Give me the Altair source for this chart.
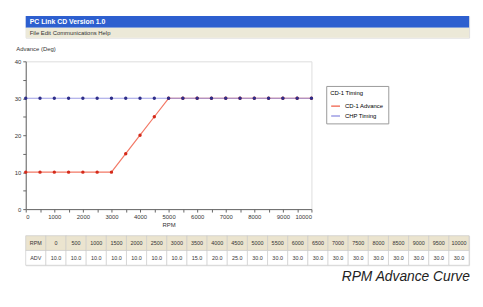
import altair as alt
import pandas as pd

# ---- data ----
RPM = [0, 500, 1000, 1500, 2000, 2500, 3000, 3500, 4000, 4500, 5000,
       5500, 6000, 6500, 7000, 7500, 8000, 8500, 9000, 9500, 10000]
CD1_ADVANCE = [10.0, 10.0, 10.0, 10.0, 10.0, 10.0, 10.0, 15.0, 20.0, 25.0, 30.0,
               30.0, 30.0, 30.0, 30.0, 30.0, 30.0, 30.0, 30.0, 30.0, 30.0]
CHP_TIMING = [30.0] * 21
SERIES = ["CD-1 Advance", "CHP Timing"]
WINDOW_TITLE = "PC Link CD Version 1.0"
MENU = "File    Edit    Communications    Help"
CAPTION = "RPM Advance Curve"
X_TICKS = list(range(0, 10001, 500))
Y_TICKS = list(range(0, 41, 5))

FONT = "Liberation Sans"

df = pd.DataFrame({
    "rpm": RPM * 2,
    "adv": CD1_ADVANCE + CHP_TIMING,
    "series": [SERIES[0]] * len(RPM) + [SERIES[1]] * len(RPM),
    "order": [0] * len(RPM) + [1] * len(RPM),
})

# ---- header (window title bar + menu) ----
hdr = pd.DataFrame({"t": [WINDOW_TITLE], "m": [MENU]})
hbase = alt.Chart(hdr)
header = alt.layer(
    hbase.mark_rect(color="#2d5fcf").encode(
        x=alt.value(0), x2=alt.value(450), y=alt.value(0), y2=alt.value(12)),
    hbase.mark_text(color="white", align="left", baseline="middle",
                    fontSize=7, fontWeight="bold", font=FONT).encode(
        x=alt.value(4), y=alt.value(6), text="t:N"),
    hbase.mark_rect(color="#ece9d8").encode(
        x=alt.value(0), x2=alt.value(450), y=alt.value(12), y2=alt.value(22)),
    hbase.mark_text(color="#333", align="left", baseline="middle",
                    fontSize=6, font=FONT).encode(
        x=alt.value(4), y=alt.value(17), text="m:N"),
).properties(width=450, height=22)

# ---- main line chart ----
axis_common = dict(grid=False, labelFontSize=6, titleFontSize=6, tickSize=3,
                   domainColor="#666", tickColor="#666", labelColor="#333",
                   titleColor="#333", labelFont=FONT, titleFont=FONT,
                   labelOverlap=False, titleFontWeight="normal")
x_axis = alt.Axis(title="RPM", values=X_TICKS, format="d",
                  labelExpr="datum.value % 1000 == 0 ? datum.label : ''",
                  titlePadding=2, **axis_common)
y_axis = alt.Axis(title="Advance (Deg)", values=Y_TICKS, format="d",
                  labelExpr="datum.value % 10 == 0 ? datum.label : ''",
                  titleAngle=0, titleAlign="left",
                  titleX=-10, titleY=-10, **axis_common)
xs = alt.Scale(domain=[0, 10000], nice=False)
ys = alt.Scale(domain=[0, 40], nice=False)

base = alt.Chart(df)
lines = base.mark_line(strokeWidth=1.2, opacity=0.85).encode(
    x=alt.X("rpm:Q", scale=xs, axis=x_axis),
    y=alt.Y("adv:Q", scale=ys, axis=y_axis),
    color=alt.Color("series:N", scale=alt.Scale(domain=SERIES, range=["#f0604a", "#8c8ce0"]),
                    legend=alt.Legend(title="CD-1 Timing", orient="none", legendX=305,
                                      legendY=25, strokeColor="#999", padding=4,
                                      titleFontSize=6, labelFontSize=6, titleFont=FONT,
                                      labelFont=FONT, titleFontWeight="normal",
                                      symbolType="stroke", symbolSize=80,
                                      symbolStrokeWidth=1.5, rowPadding=1,
                                      fillColor="white")),
    detail="series:N",
    order="order:Q",
)
points = base.mark_point(filled=True, size=12, opacity=1).encode(
    x=alt.X("rpm:Q", scale=xs, axis=x_axis),
    y=alt.Y("adv:Q", scale=ys, axis=y_axis),
    color=alt.Color("series:N", scale=alt.Scale(domain=SERIES, range=["#d42a1a", "#2e2e8a"]),
                    legend=None),
)
main = alt.layer(lines, points).resolve_scale(color="independent").properties(
    width=290, height=150)

# ---- table ----
rows = []
rows.append({"col": 0, "row": "h", "txt": "RPM"})
rows.append({"col": 0, "row": "v", "txt": "ADV"})
for i, (r, a) in enumerate(zip(RPM, CD1_ADVANCE)):
    rows.append({"col": i + 1, "row": "h", "txt": str(r)})
    rows.append({"col": i + 1, "row": "v", "txt": f"{a:.1f}"})
tdf = pd.DataFrame(rows)
tx = alt.X("col:O", axis=None, scale=alt.Scale(paddingInner=0, paddingOuter=0))
ty = alt.Y("row:N", axis=None, sort=["h", "v"], scale=alt.Scale(paddingInner=0, paddingOuter=0))
tbase = alt.Chart(tdf)
table = alt.layer(
    tbase.mark_rect(stroke="#c8c8c8", strokeWidth=0.6).encode(
        x=tx, y=ty,
        fill=alt.Fill("row:N", scale=alt.Scale(domain=["h", "v"], range=["#ebe4cf", "#ffffff"]),
                      legend=None)),
    tbase.mark_text(fontSize=5.5, color="#333", font=FONT).encode(
        x=tx, y=ty, text="txt:N"),
).properties(width=450, height=30)

chart = alt.vconcat(header, main, table, spacing=6).properties(
    title=alt.TitleParams(CAPTION, orient="bottom", anchor="end", fontSize=14,
                          fontStyle="italic", fontWeight="normal", font=FONT,
                          color="#222", offset=4)
).configure_view(stroke=None).configure_axis(labelOverlap=False).configure(background="white")

chart.save("out.html", embed_options={"renderer": "svg", "actions": False})
